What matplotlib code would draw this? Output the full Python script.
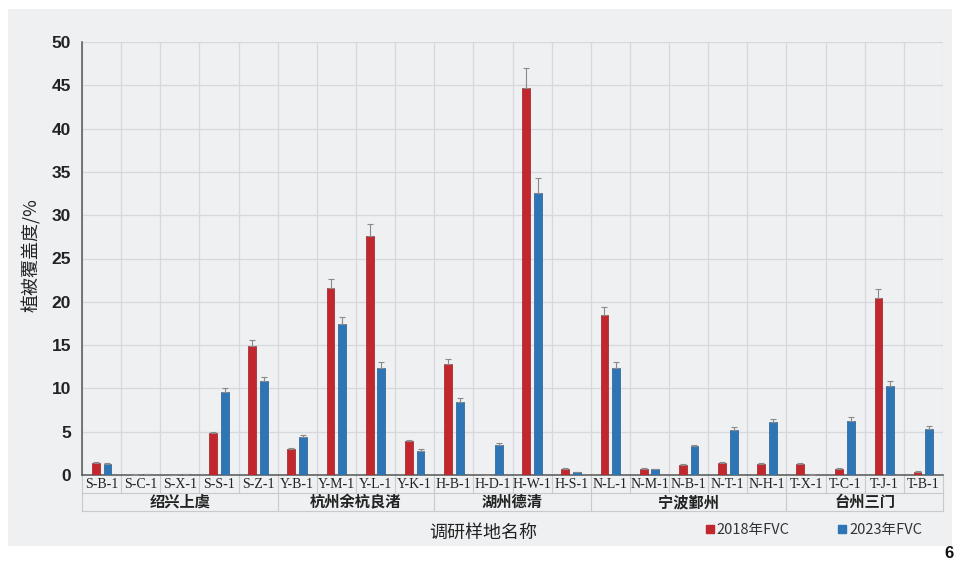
import matplotlib
matplotlib.use('Agg')
import matplotlib.pyplot as plt
import matplotlib.transforms as mtransforms
from matplotlib.lines import Line2D
from matplotlib.patches import Rectangle
import numpy as np

plt.rcParams['font.family'] = ['Noto Sans CJK SC', 'DejaVu Sans']

# data
sites = ['S-B-1', 'S-C-1', 'S-X-1', 'S-S-1', 'S-Z-1',
         'Y-B-1', 'Y-M-1', 'Y-L-1', 'Y-K-1',
         'H-B-1', 'H-D-1', 'H-W-1', 'H-S-1',
         'N-L-1', 'N-M-1', 'N-B-1', 'N-T-1', 'N-H-1',
         'T-X-1', 'T-C-1', 'T-J-1', 'T-B-1']
groups = ['绍兴上虞', '杭州余杭良渚', '湖州德清', '宁波鄞州', '台州三门']
group_sizes = [5, 4, 4, 5, 4]
fvc2018 = [1.4, 0.05, 0.03, 4.8, 14.9, 3.0, 21.6, 27.6, 3.9, 12.8, 0.0, 44.7, 0.7,
           18.5, 0.75, 1.2, 1.4, 1.25, 1.3, 0.7, 20.4, 0.4]
fvc2023 = [1.25, 0.08, 0.08, 9.6, 10.8, 4.35, 17.4, 12.4, 2.8, 8.4, 3.5, 32.6, 0.3,
           12.3, 0.7, 3.3, 5.2, 6.1, 0.05, 6.2, 10.3, 5.3]
err2018 = [0.1, 0.02, 0.02, 0.2, 0.7, 0.15, 1.05, 1.4, 0.15, 0.6, 0.0, 2.3, 0.1,
           0.95, 0.1, 0.1, 0.15, 0.1, 0.1, 0.1, 1.05, 0.1]
err2023 = [0.1, 0.02, 0.02, 0.45, 0.55, 0.25, 0.85, 0.6, 0.15, 0.45, 0.15, 1.7, 0.05,
           0.7, 0.05, 0.15, 0.3, 0.4, 0.02, 0.45, 0.6, 0.35]
legend_labels = ['2018年FVC', '2023年FVC']

red = '#c1272d'
blue = '#2e75b6'
bg = '#eef0f2'
gridc = '#d6d8db'

W, H = 957, 562
fig = plt.figure(figsize=(W / 100, H / 100), dpi=100, facecolor='white')
fig.patches.append(Rectangle((8 / W, 1 - 546 / H), 944 / W, 537 / H,
                             transform=fig.transFigure, facecolor=bg,
                             edgecolor='none', zorder=-10))

x0, x1, y0, y1 = 82, 943, 475, 42
ax = fig.add_axes([x0 / W, 1 - y0 / H, (x1 - x0) / W, (y0 - y1) / H])
ax.set_facecolor(bg)

x = np.arange(len(sites))
bw = 0.2
off = 0.15
ax.bar(x - off, fvc2018, bw, color=red, edgecolor='#9e1c22', linewidth=0.5, zorder=3)
ax.bar(x + off, fvc2023, bw, color=blue, edgecolor='#235d92', linewidth=0.5, zorder=3)
ax.errorbar(x - off, fvc2018, yerr=[np.zeros(len(x)), err2018], fmt='none',
            ecolor='#8a8a8a', elinewidth=0.8, capsize=2, capthick=0.8, zorder=4)
ax.errorbar(x + off, fvc2023, yerr=[np.zeros(len(x)), err2023], fmt='none',
            ecolor='#8a8a8a', elinewidth=0.8, capsize=2, capthick=0.8, zorder=4)

ax.set_xlim(-0.5, len(sites) - 0.5)
ax.set_ylim(0, 50)
ax.set_yticks(np.arange(0, 51, 5))
ax.set_xticks(np.arange(len(sites) + 1) - 0.5)
ax.set_xticklabels([])
ax.tick_params(axis='both', length=0)
ax.tick_params(axis='y', pad=8)
for lab in ax.get_yticklabels():
    lab.set_fontfamily('Liberation Sans')
    lab.set_fontweight('bold')
    lab.set_fontsize(12.5)
    lab.set_color('#222222')
ax.grid(True, color=gridc, linewidth=0.9, zorder=0)
for s in ['top', 'right']:
    ax.spines[s].set_visible(False)
ax.spines['left'].set_color('#555555')
ax.spines['bottom'].set_color('#555555')
ax.spines['left'].set_linewidth(1.1)
ax.spines['bottom'].set_linewidth(1.1)

# category table below the axis
trans = mtransforms.blended_transform_factory(ax.transData, ax.transAxes)
axh = y0 - y1
row1 = -(493 - y0) / axh
row2 = -(511 - y0) / axh
lc = '#c8cacd'
for i, name in enumerate(sites):
    ax.text(i, (0 + row1) / 2, name, transform=trans, ha='center', va='center',
            fontsize=10, family='Liberation Serif', color='#222222')
ax.add_line(Line2D([-0.5, len(sites) - 0.5], [row1, row1], transform=trans,
                   color=lc, lw=0.8, clip_on=False))
ax.add_line(Line2D([-0.5, len(sites) - 0.5], [row2, row2], transform=trans,
                   color=lc, lw=0.8, clip_on=False))
bounds = np.cumsum([0] + group_sizes)
for i in range(len(sites) + 1):
    yb = row2 if i in bounds else row1
    ax.add_line(Line2D([i - 0.5, i - 0.5], [0, yb], transform=trans,
                       color=lc, lw=0.8, clip_on=False))
for g, a, b in zip(groups, bounds[:-1], bounds[1:]):
    ax.text((a + b - 1) / 2, (row1 + row2) / 2, g, transform=trans, ha='center',
            va='center', fontsize=11, fontweight='bold', color='#222222')

fig.text(483 / W, 1 - 533 / H, '调研样地名称', ha='center', va='center',
         fontsize=13, color='#222222')
fig.text(31 / W, 1 - 255 / H, '植被覆盖度/%', ha='center', va='center',
         rotation=90, fontsize=13, color='#222222')

handles = [Line2D([], [], marker='s', ls='none', color=red, markersize=6),
           Line2D([], [], marker='s', ls='none', color=blue, markersize=6)]
fig.legend(handles, legend_labels, ncol=2, frameon=False, loc='center',
           bbox_to_anchor=(813 / W, 1 - 530 / H), handletextpad=0.1,
           columnspacing=3.2, handlelength=0.8, prop={'size': 10.5})
for t in fig.legends[0].get_texts():
    t.set_color('#333333')

fig.text(949 / W, 1 - 553 / H, '6', ha='center', va='center', fontsize=12,
         fontweight='bold', color='#111111', family='Liberation Sans')

fig.savefig('out.png', dpi=100, facecolor='white')
